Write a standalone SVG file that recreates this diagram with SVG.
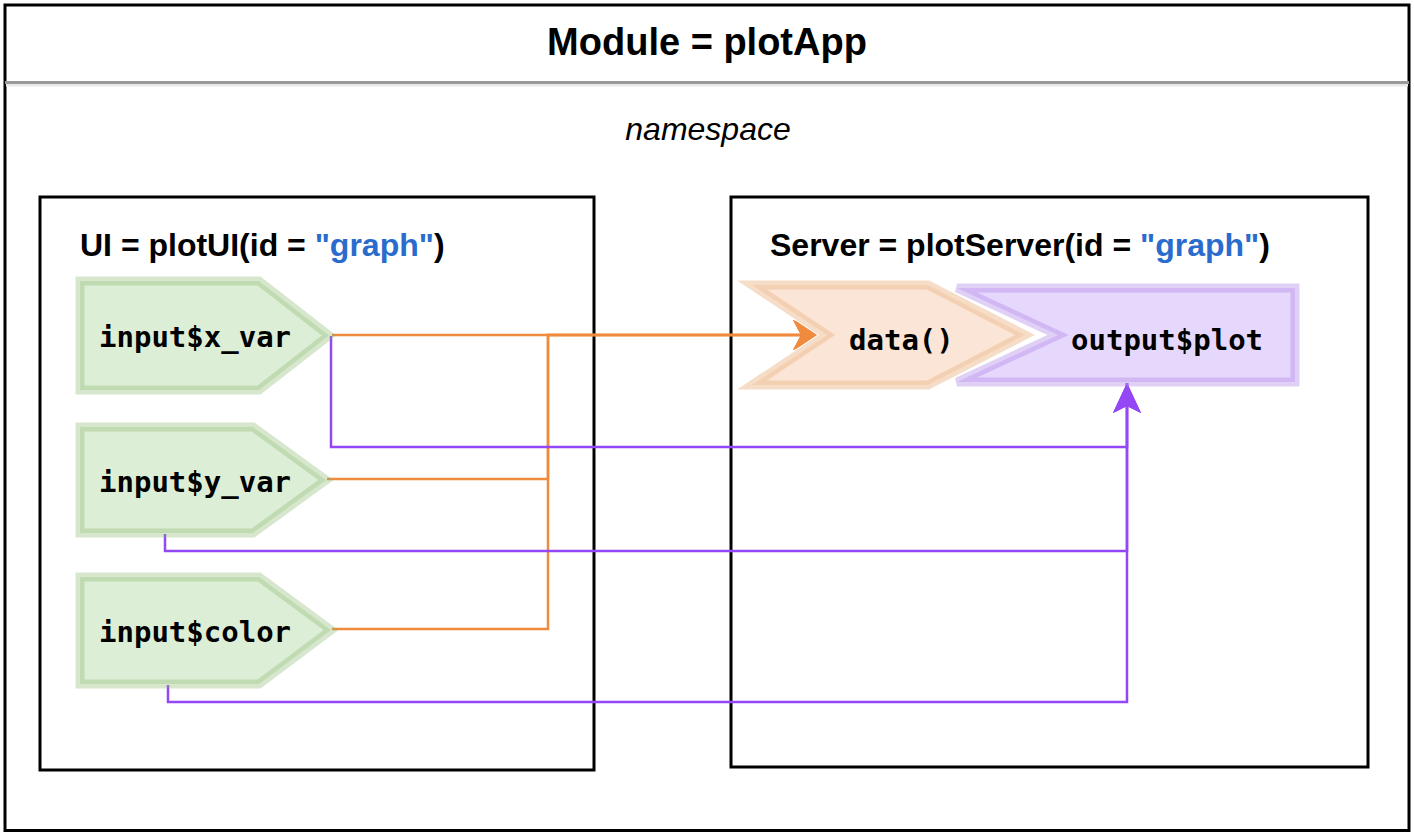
<svg xmlns="http://www.w3.org/2000/svg" width="1414" height="834" viewBox="0 0 1414 834">
  <style>
    .frame { fill: #ffffff; stroke: #000000; stroke-width: 3; }
    .title { font-family: "Liberation Sans", Arial, sans-serif; font-weight: bold; font-size: 38px; fill: #000; }
    .ns { font-family: "Liberation Sans", Arial, sans-serif; font-style: italic; font-size: 32px; fill: #000; }
    .lbl { font-family: "Liberation Sans", Arial, sans-serif; font-weight: bold; font-size: 32px; fill: #000; }
    .blue { fill: #2a6ccd; }
    .mono { font-family: "DejaVu Sans Mono", "Liberation Mono", monospace; font-weight: bold; font-size: 29px; fill: #000; }
    .in { fill: #ddeed6; stroke: #82b366; stroke-opacity: 0.32; stroke-width: 9; }
    .dat { fill: #fbe5d6; stroke: #eebc90; stroke-opacity: 0.5; stroke-width: 9; }
    .out { fill: #e6d8fc; stroke: #b28ae8; stroke-opacity: 0.4; stroke-width: 9; }
    .or { fill: none; stroke: #f08a3c; stroke-width: 2.5; }
    .pu { fill: none; stroke: #9448f5; stroke-width: 2.5; }
  </style>
  <defs>
    <marker id="arrOr" markerUnits="userSpaceOnUse" markerWidth="40" markerHeight="32" viewBox="-36 -16 40 32" refX="0" refY="0" orient="auto">
      <path d="M0,0 L-35,-15 L-27,0 L-35,15 Z" fill="#f08a3c"/>
    </marker>
    <marker id="arrPu" markerUnits="userSpaceOnUse" markerWidth="40" markerHeight="32" viewBox="-36 -16 40 32" refX="0" refY="0" orient="auto">
      <path d="M0,0 L-30,-14 L-23,0 L-30,14 Z" fill="#9448f5"/>
    </marker>
  </defs>

  <rect width="1414" height="834" fill="#ffffff"/>

  <g id="module">
    <rect class="frame" x="5" y="5" width="1404" height="825.5"/>
    <line x1="6" y1="84" x2="1408" y2="84" stroke="#e8e8e8" stroke-width="5"/>
    <line x1="5" y1="82.5" x2="1409" y2="82.5" stroke="#999999" stroke-width="3"/>
    <text class="title" x="707" y="55" text-anchor="middle">Module = plotApp</text>
    <text class="ns" x="708" y="140" text-anchor="middle">namespace</text>
  </g>

  <g id="ui-box">
    <rect class="frame" x="40" y="197" width="554" height="573"/>
    <text class="lbl" x="80" y="256">UI = plotUI(id = <tspan class="blue">"graph"</tspan>)</text>
  </g>

  <g id="server-box">
    <rect class="frame" x="731" y="197" width="637" height="570"/>
    <text class="lbl" x="770" y="256">Server = plotServer(id = <tspan class="blue">"graph"</tspan>)</text>
  </g>

  <g id="connectors">
    <path class="or" d="M332,335 H548 H828" marker-end="url(#arrOr)"/>
    <path class="or" d="M327,479 H548 V335 H828" marker-end="url(#arrOr)"/>
    <path class="or" d="M332,629 H548 V335 H828" marker-end="url(#arrOr)"/>
    <path class="pu" d="M331,336 V447 H1127 V383" marker-end="url(#arrPu)"/>
    <path class="pu" d="M165,534 V551 H1127 V383" marker-end="url(#arrPu)"/>
    <path class="pu" d="M168,685 V702 H1127 V383" marker-end="url(#arrPu)"/>
  </g>

  <g id="input-x_var">
    <polygon class="in" points="80,281 259,281 329,335.5 259,390 80,390"/>
    <text class="mono" x="99" y="347">input$x_var</text>
  </g>
  <g id="input-y_var">
    <polygon class="in" points="80,427 253,427 326,480 253,533 80,533"/>
    <text class="mono" x="99" y="491.5">input$y_var</text>
  </g>
  <g id="input-color">
    <polygon class="in" points="80,577 259,577 331,630 259,684 80,684"/>
    <text class="mono" x="99" y="641.5">input$color</text>
  </g>

  <g id="output-plot">
    <polygon class="out" points="957,288 1295,288 1295,382 957,382 1058,335"/>
    <text class="mono" x="1071" y="350">output$plot</text>
  </g>
  <g id="data">
    <polygon points="752,285 928,285 1025,335 928,385 752,385 827,335" fill="none" stroke="#ffffff" stroke-width="11"/>
    <polygon class="dat" points="752,285 928,285 1025,335 928,385 752,385 827,335"/>
    <text class="mono" x="849" y="350">data()</text>
  </g>
</svg>
